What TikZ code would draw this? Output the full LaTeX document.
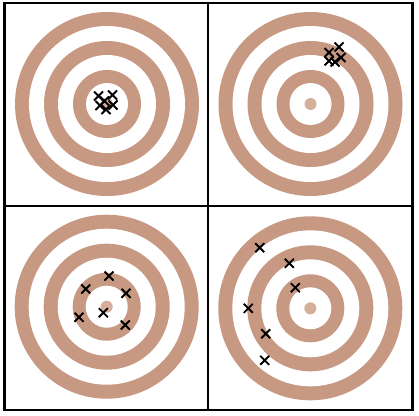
\documentclass[tikz,border=0pt]{standalone}
\definecolor{ring}{RGB}{199,153,131}
\definecolor{dot}{RGB}{214,174,154}
\tikzset{
  cross/.style={line width=1.9pt, black},
  frame/.style={line width=2.2pt, black},
}
\newcommand{\target}[2]{%
  \fill[ring] (#1,#2) circle[radius=92];
  \fill[white] (#1,#2) circle[radius=78];
  \fill[ring] (#1,#2) circle[radius=63];
  \fill[white] (#1,#2) circle[radius=49];
  \fill[ring] (#1,#2) circle[radius=34];
  \fill[white] (#1,#2) circle[radius=21];
  \fill[dot] (#1,#2) circle[radius=6];
}
\newcommand{\hit}[2]{%
  \draw[cross] (#1-4.5,#2-4.5) -- (#1+4.5,#2+4.5) (#1-4.5,#2+4.5) -- (#1+4.5,#2-4.5);
}
\begin{document}
\begin{tikzpicture}[x=1pt,y=-1pt]
\useasboundingbox (0,0) rectangle (419,415);
\fill[white] (0,0) rectangle (419,415);
\target{107}{104}
\target{310.5}{104}
\target{106.7}{306.7}
\target{310.3}{308.3}
% panel 1
\hit{98.5}{96}
\hit{112.5}{95}
\hit{104.5}{101}
\hit{100}{105.5}
\hit{113}{105}
\hit{106}{109.5}
% panel 2
\hit{339}{47}
\hit{329}{52.5}
\hit{341}{57.5}
\hit{329}{61}
\hit{335}{62}
% panel 3
\hit{109}{276}
\hit{85.7}{289}
\hit{126}{293.3}
\hit{79}{317.3}
\hit{103.3}{312.7}
\hit{125.3}{325}
% panel 4
\hit{259.7}{247.7}
\hit{289.3}{263.3}
\hit{295.3}{287.7}
\hit{248.3}{308.3}
\hit{265.7}{333.7}
\hit{264.7}{360.3}
% frame
\coordinate (tl) at (4.5,3);
\coordinate (br) at (412.5,410);
\draw[frame] (tl) rectangle (br);
\draw[frame] (208.3,3) -- (208.3,410);
\draw[frame] (4.5,205.7) -- (412.5,205.7);
\end{tikzpicture}
\end{document}
